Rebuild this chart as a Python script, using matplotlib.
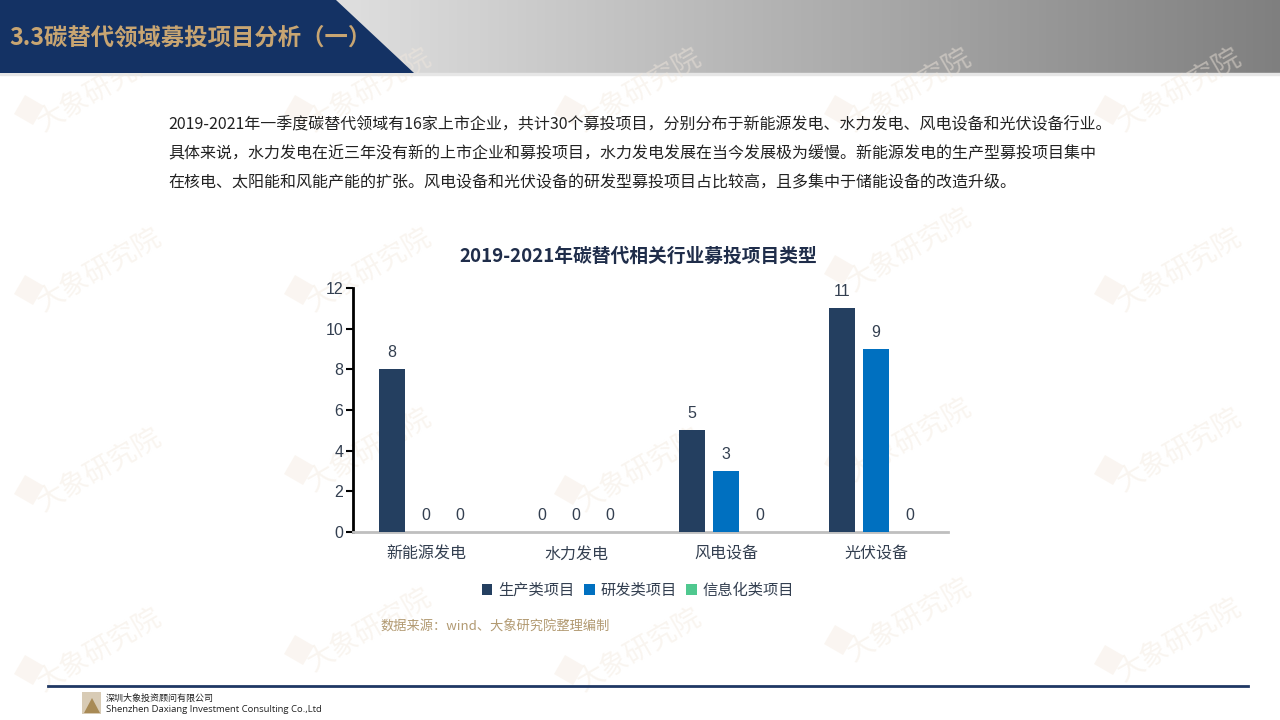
import numpy as np
import matplotlib
matplotlib.use("Agg")
import matplotlib.pyplot as plt
from matplotlib.patches import Polygon, Rectangle

plt.rcParams['font.family'] = ['Noto Sans CJK SC', 'DejaVu Sans']

# ---- data ----
categories = ['新能源发电', '水力发电', '风电设备', '光伏设备']
series_names = ['生产类项目', '研发类项目', '信息化类项目']
production = [8, 0, 5, 11]
research = [0, 0, 3, 9]
info = [0, 0, 0, 0]
yticks = [0, 2, 4, 6, 8, 10, 12]
colors = ['#243f60', '#0070c0', '#4fc88f']

title_text = '3.3碳替代领域募投项目分析（一）'
chart_title = '2019-2021年碳替代相关行业募投项目类型'
para_lines = [
    '2019-2021年一季度碳替代领域有16家上市企业，共计30个募投项目，分别分布于新能源发电、水力发电、风电设备和光伏设备行业。',
    '具体来说，水力发电在近三年没有新的上市企业和募投项目，水力发电发展在当今发展极为缓慢。新能源发电的生产型募投项目集中',
    '在核电、太阳能和风能产能的扩张。风电设备和光伏设备的研发型募投项目占比较高，且多集中于储能设备的改造升级。',
]
source_text = '数据来源：wind、大象研究院整理编制'

W, H = 1280, 720
fig = plt.figure(figsize=(W / 100, H / 100), dpi=100)
fig.patch.set_facecolor('white')

# ---- background layer in pixel coords ----
bg = fig.add_axes([0, 0, 1, 1], zorder=0)
bg.set_xlim(0, W)
bg.set_ylim(H, 0)
bg.axis('off')

# gray gradient header
grad = np.linspace(0.89, 0.50, 256).reshape(1, -1)
bg.imshow(np.dstack([grad, grad, grad]), extent=[300, W, 73, 0], aspect='auto', zorder=1)
bg.add_patch(Rectangle((0, 73), W, 2, color='#e6e6e6', zorder=1))
# navy band with diagonal edge
bg.add_patch(Polygon([[0, 0], [336, 0], [414, 73], [0, 73]], closed=True,
                     facecolor='#143264', edgecolor='none', zorder=2))
bg.text(9, 38, title_text, fontsize=16.8, fontweight='bold', color='#c8a572',
        va='center', ha='left', zorder=3)

# watermarks
wm_pos = [(100, 270), (370, 270), (640, 90), (910, 250), (1180, 270),
          (100, 470), (370, 450), (640, 470), (910, 440), (1180, 450),
          (100, 650), (370, 630), (640, 650), (910, 620), (1180, 640),
          (100, 90), (370, 90), (910, 90), (1180, 90)]
for (x, y) in wm_pos:
    bg.add_patch(Rectangle((x - 75, y + 5), 22, 22, angle=30, facecolor='#f5ebe0',
                           edgecolor='none', alpha=0.45, zorder=1.5))
    bg.text(x, y, '大象研究院', fontsize=20, color='#f3e9de', alpha=0.45, rotation=30,
            ha='center', va='center', zorder=1.5)

# paragraph
for i, line in enumerate(para_lines):
    bg.text(168, 125 + i * 28.5, line, fontsize=11.5, color='#222222',
            va='center', ha='left', zorder=3)

# chart title
bg.text(638, 256, chart_title, fontsize=13.5, fontweight='bold', color='#1f2d4a',
        va='center', ha='center', zorder=3)

# source
bg.text(380, 627, source_text, fontsize=9.5, color='#b29a72', va='center', ha='left', zorder=3)

# footer
bg.plot([48, 1248], [686, 686], color='#1f3864', lw=2, zorder=3)
bg.add_patch(Rectangle((82, 692), 19, 22, facecolor='#d8cbb5', edgecolor='none', zorder=3))
bg.add_patch(Polygon([[84, 713], [92, 698], [100, 713]], closed=True,
                     facecolor='#a88a55', edgecolor='none', zorder=3.1))
bg.text(106, 698, '深圳大象投资顾问有限公司', fontsize=6.5, color='#222222', va='center', ha='left', zorder=3)
bg.text(106, 710, 'Shenzhen Daxiang Investment Consulting Co.,Ltd', fontsize=6.8,
        color='#222222', va='center', ha='left', zorder=3, family=['Open Sans', 'DejaVu Sans'])

# ---- chart axes ----
ax = fig.add_axes([353 / W, (H - 532) / H, 595 / W, 244 / H], zorder=2)
ax.patch.set_alpha(0)
x = np.arange(len(categories))
bw = 26 / 150
off = 34 / 150
all_series = [production, research, info]
num_font = ['Liberation Sans', 'Noto Sans CJK SC']
for k, vals in enumerate(all_series):
    xs = x + (k - 1) * off
    ax.bar(xs, vals, width=bw, color=colors[k], label=series_names[k], zorder=3)
    for xi, v in zip(xs, vals):
        ax.annotate(str(v), (xi, v), xytext=(0, 6.5), textcoords='offset points',
                    ha='center', va='bottom', fontsize=11.5, color='#333f50',
                    family=num_font)

ax.set_xlim(-0.487, 3.48)
ax.set_ylim(0, 12)
ax.set_yticks(yticks)
ax.set_yticklabels([str(t) for t in yticks], family=num_font, fontsize=11.5, color='#333f50')
ax.set_xticks(x)
ax.set_xticklabels(categories, fontsize=11.5, color='#333f50')
ax.tick_params(axis='x', length=0, pad=10)
ax.tick_params(axis='y', length=5, width=1.5, color='black', pad=2)
for s in ['top', 'right']:
    ax.spines[s].set_visible(False)
ax.spines['left'].set_color('black')
ax.spines['left'].set_linewidth(2)
ax.spines['bottom'].set_color('#bfbfbf')
ax.spines['bottom'].set_linewidth(2)

leg = fig.legend(loc='center', bbox_to_anchor=(638 / W, (H - 590) / H), ncol=3,
                 frameon=False, fontsize=11, handlelength=0.7, handleheight=0.7,
                 handletextpad=0.4, columnspacing=0.6)
for t in leg.get_texts():
    t.set_color('#333f50')

fig.savefig('out.png', dpi=100)
